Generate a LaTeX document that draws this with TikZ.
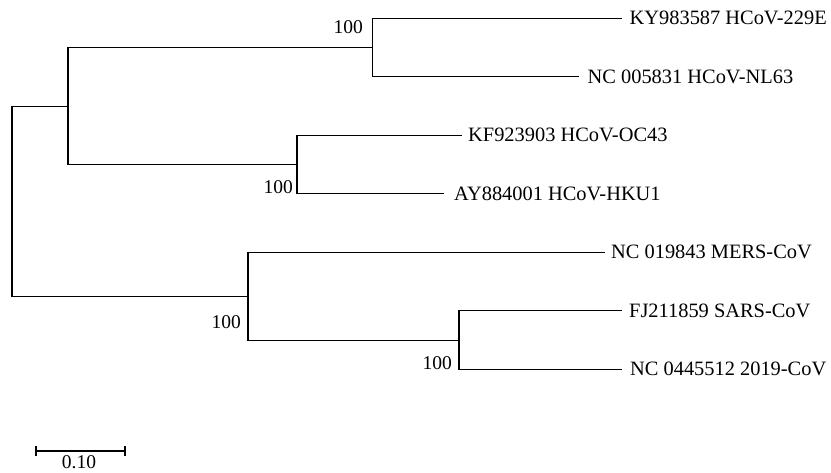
\documentclass[tikz,border=0pt]{standalone}
\usepackage{fontspec}
\setmainfont{Liberation Serif}
\begin{document}
\begin{tikzpicture}[x=1pt,y=-1pt,
  branch/.style={line width=1.1pt, line join=miter},
  leaf/.style={anchor=west, inner sep=0pt, font=\fontsize{20.4}{24}\selectfont},
  boot/.style={anchor=east, inner sep=0pt, font=\fontsize{19.5}{23}\selectfont}]
\useasboundingbox (0,0) rectangle (831,472);
% internal nodes
\coordinate (R) at (12,201.2);
\coordinate (E) at (68,106.3);
\coordinate (A) at (372.3,47.5);
\coordinate (B) at (297,164.5);
\coordinate (D) at (248,296.2);
\coordinate (C) at (459,340.5);
% leaf tips
\coordinate (t1) at (621.7,18.3);
\coordinate (t2) at (579,76.8);
\coordinate (t3) at (461.7,135.3);
\coordinate (t4) at (443.5,193.8);
\coordinate (t5) at (605,252.3);
\coordinate (t6) at (621.7,310.8);
\coordinate (t7) at (621.7,369.3);
% leaf labels
\node[leaf] (l1) at (629.5,18.3) {KY983587 HCoV-229E};
\node[leaf] (l2) at (587.5,76.8) {NC 005831 HCoV-NL63};
\node[leaf] (l3) at (468,135.3) {KF923903 HCoV-OC43};
\node[leaf] (l4) at (454,193.8) {AY884001 HCoV-HKU1};
\node[leaf] (l5) at (611,252.3) {NC 019843 MERS-CoV};
\node[leaf] (l6) at (629,310.8) {FJ211859 SARS-CoV};
\node[leaf] (l7) at (630,369.3) {NC 0445512 2019-CoV};
% branches
\draw[branch] (R) |- (E);
\draw[branch] (R) |- (D);
\draw[branch] (E) |- (A);
\draw[branch] (E) |- (B);
\draw[branch] (A) |- (t1);
\draw[branch] (A) |- (t2);
\draw[branch] (B) |- (t3);
\draw[branch] (B) |- (t4);
\draw[branch] (D) |- (t5);
\draw[branch] (D) |- (C);
\draw[branch] (C) |- (t6);
\draw[branch] (C) |- (t7);
% bootstrap values
\node[boot] (b1) at (363,26.7) {100};
\node[boot] (b2) at (293,187.2) {100};
\node[boot] (b3) at (241,321.7) {100};
\node[boot] (b4) at (452,363) {100};
% scale bar
\coordinate (s1) at (36,451);
\coordinate (s2) at (125,451);
\draw[branch] (s1) -- (s2);
\draw[branch] ([yshift=-5pt]s1) -- ([yshift=5pt]s1);
\draw[branch] ([yshift=-5pt]s2) -- ([yshift=5pt]s2);
\node[inner sep=0pt, font=\fontsize{19.5}{23}\selectfont] (sl) at (79,462) {0.10};
\end{tikzpicture}
\end{document}
